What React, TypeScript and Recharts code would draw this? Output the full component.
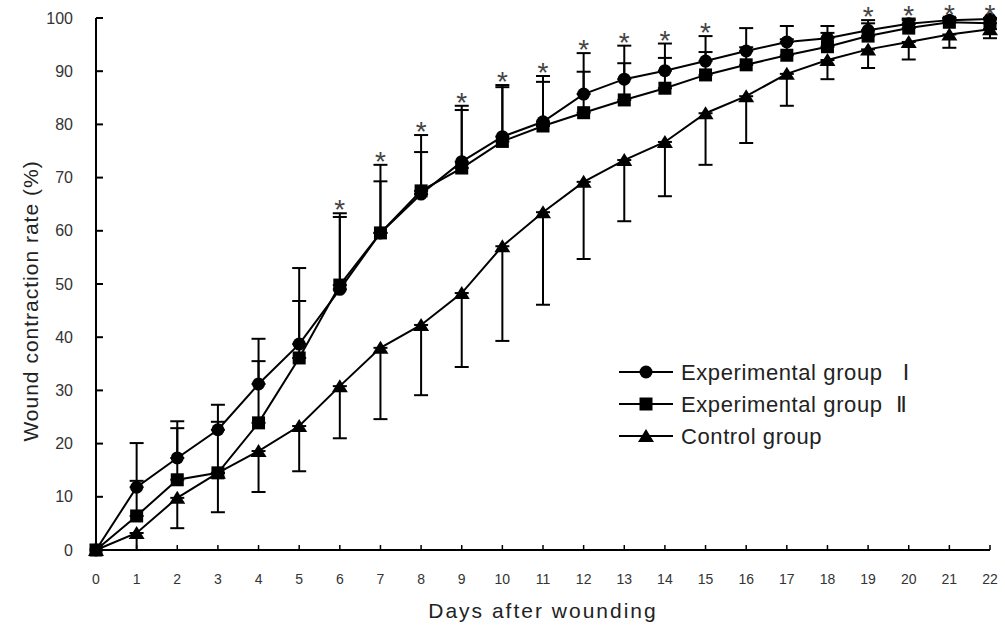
import React from 'react';
import { ComposedChart, Line, XAxis, YAxis, ErrorBar, Legend, Label } from 'recharts';

const FONT = '"Liberation Sans", Arial, "DejaVu Sans", sans-serif';

const days = [0, 1, 2, 3, 4, 5, 6, 7, 8, 9, 10, 11, 12, 13, 14, 15, 16, 17, 18, 19, 20, 21, 22];
const expI = [0, 11.8, 17.3, 22.6, 31.2, 38.7, 49.0, 59.6, 66.9, 73.0, 77.7, 80.5, 85.7, 88.5, 90.1, 91.9, 93.8, 95.5, 96.2, 97.7, 98.9, 99.6, 99.8];
const expISd = [0, 8.3, 6.9, 4.7, 8.5, 14.3, 14.3, 12.8, 11.1, 10.5, 9.7, 8.6, 7.7, 6.3, 5.1, 4.7, 4.3, 3.0, 2.3, 1.9, 1.0, 0.4, 0.2];
const expII = [0, 6.4, 13.2, 14.5, 23.9, 36.1, 49.8, 59.6, 67.5, 71.8, 76.8, 79.7, 82.2, 84.6, 86.8, 89.3, 91.2, 93.0, 94.6, 96.6, 98.1, 99.2, 99.0];
const expIISd = [0, 6.6, 9.7, 9.6, 11.6, 10.7, 12.8, 9.7, 7.3, 10.9, 10.2, 8.3, 7.7, 6.9, 5.7, 4.3, 3.3, 3.0, 2.6, 2.4, 1.5, 0.8, 0.9];
const control = [0, 3.2, 9.8, 14.5, 18.6, 23.3, 30.8, 38.0, 42.3, 48.3, 57.1, 63.5, 69.2, 73.3, 76.7, 82.1, 85.3, 89.5, 92.1, 94.1, 95.5, 96.9, 97.9];
const controlSd = [0, 3.2, 5.7, 7.4, 7.7, 8.5, 9.8, 13.4, 13.2, 13.9, 17.8, 17.4, 14.5, 11.5, 10.2, 9.7, 8.8, 6.0, 3.6, 3.5, 3.3, 2.5, 1.7];
const significantDays = [6, 7, 8, 9, 10, 11, 12, 13, 14, 15, 19, 20, 21, 22];
const yTicks = [0, 10, 20, 30, 40, 50, 60, 70, 80, 90, 100];
const seriesNames = ['Experimental group \u00a0\u00a0\u2160', 'Experimental group \u00a0\u2161', 'Control group'];
const seriesShapes = ['circle', 'square', 'triangle'];

const data = days.map((d, i) => ({
  day: d,
  expI: expI[i],
  expIErr: i === 0 ? null : [0, expISd[i]],
  expII: expII[i],
  expIIErr: i === 0 ? null : [0, expIISd[i]],
  control: control[i],
  controlErr: i === 0 ? null : [controlSd[i], 0],
  star: significantDays.includes(d) ? Math.max(expI[i] + expISd[i], expII[i] + expIISd[i]) : null,
}));

const drawShape = (shape: string, cx: number, cy: number, key?: any) => {
  if (shape === 'circle') return <circle key={key} cx={cx} cy={cy} r={6.5} fill="#000" />;
  if (shape === 'square') return <rect key={key} x={cx - 6.5} y={cy - 6.5} width={13} height={13} fill="#000" />;
  return <polygon key={key} points={`${cx},${cy - 7} ${cx - 8},${cy + 6} ${cx + 8},${cy + 6}`} fill="#000" />;
};

const makeDot = (shape: string) => (p: any) => {
  if (p.cx == null || p.cy == null) return <g key={p.key} />;
  return drawShape(shape, p.cx, p.cy, p.key);
};

const StarDot = (p: any) => {
  if (p.cx == null || p.cy == null || p.value == null) return <g key={p.key} />;
  return (
    <text key={p.key} x={p.cx} y={p.cy + 6} textAnchor="middle" fontSize={28} fill="#444" fontFamily={FONT}>
      *
    </text>
  );
};

const YTitle = (props: any) => {
  const vb = props.viewBox || { x: 0, y: 18, width: 96, height: 532 };
  const x = vb.x + 38;
  const y = vb.y + vb.height / 2 + 17;
  return (
    <text
      x={x}
      y={y}
      transform={`rotate(-90 ${x} ${y})`}
      textAnchor="middle"
      fontSize={21}
      fill="#222"
      fontFamily={FONT}
      style={{ letterSpacing: '1px' }}
    >
      Wound contraction rate (%)
    </text>
  );
};

const LegendContent = () => (
  <svg width={380} height={100} style={{ display: 'block' }}>
    {seriesNames.map((name, i) => {
      const cy = 20 + i * 32;
      return (
        <g key={name}>
          <line x1={7} y1={cy} x2={61} y2={cy} stroke="#000" strokeWidth={2} />
          {drawShape(seriesShapes[i], 34, cy)}
          <text x={69} y={cy + 8} fontSize={22} fill="#222" fontFamily={FONT} style={{ letterSpacing: '0.6px' }}>
            {name}
          </text>
        </g>
      );
    })}
  </svg>
);

export default function App() {
  return (
    <div style={{ position: 'absolute', left: 0, top: 0, width: 1005, height: 630, background: '#fff' }}>
      <ComposedChart width={1005} height={630} data={data} margin={{ top: 18, right: 15, left: 0, bottom: 0 }}>
        <XAxis
          type="number"
          dataKey="day"
          domain={[0, 22]}
          ticks={days}
          interval={0}
          tickSize={-5}
          tickMargin={29}
          height={80}
          axisLine={{ stroke: '#000', strokeWidth: 2 }}
          tickLine={{ stroke: '#000', strokeWidth: 1.5 }}
          tick={{ fontSize: 14, fill: '#333', fontFamily: FONT }}
        >
          <Label
            value="Days after wounding"
            position="insideBottom"
            offset={12}
            fontSize={21}
            fill="#222"
            fontFamily={FONT}
            style={{ letterSpacing: '2px' }}
          />
        </XAxis>
        <YAxis
          type="number"
          domain={[0, 100]}
          ticks={yTicks}
          interval={0}
          tickSize={-7}
          tickMargin={30}
          width={96}
          axisLine={{ stroke: '#000', strokeWidth: 2 }}
          tickLine={{ stroke: '#000', strokeWidth: 2 }}
          tick={{ fontSize: 16, fill: '#333', fontFamily: FONT }}
        >
          <Label content={YTitle} />
        </YAxis>
        <Legend
          layout="horizontal"
          verticalAlign="middle"
          align="center"
          content={LegendContent}
          wrapperStyle={{ left: 612, top: 352, width: 380, height: 100 }}
        />
        <Line dataKey="control" name={seriesNames[2]} stroke="#000" strokeWidth={2} dot={makeDot('triangle')} activeDot={false} isAnimationActive={false}>
          <ErrorBar dataKey="controlErr" direction="y" width={7} stroke="#000" strokeWidth={2} isAnimationActive={false} />
        </Line>
        <Line dataKey="expII" name={seriesNames[1]} stroke="#000" strokeWidth={2} dot={makeDot('square')} activeDot={false} isAnimationActive={false}>
          <ErrorBar dataKey="expIIErr" direction="y" width={7} stroke="#000" strokeWidth={2} isAnimationActive={false} />
        </Line>
        <Line dataKey="expI" name={seriesNames[0]} stroke="#000" strokeWidth={2} dot={makeDot('circle')} activeDot={false} isAnimationActive={false}>
          <ErrorBar dataKey="expIErr" direction="y" width={7} stroke="#000" strokeWidth={2} isAnimationActive={false} />
        </Line>
        <Line dataKey="star" stroke="none" legendType="none" dot={StarDot} activeDot={false} isAnimationActive={false} />
      </ComposedChart>
    </div>
  );
}
